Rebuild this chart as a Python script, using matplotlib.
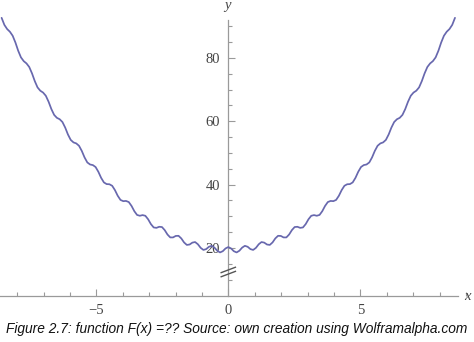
import numpy as np
import matplotlib
matplotlib.use("Agg")
import matplotlib.pyplot as plt
from matplotlib.ticker import MultipleLocator, FixedLocator

# Values (right half, x >= 0; the curve is mirror-symmetric)
x_half = [0.000, 0.105, 0.209, 0.314, 0.419, 0.524, 0.628, 0.733, 0.838, 0.942,
          1.047, 1.152, 1.257, 1.361, 1.466, 1.571, 1.676, 1.780, 1.885, 1.990,
          2.094, 2.199, 2.304, 2.409, 2.513, 2.618, 2.723, 2.827, 2.932, 3.037,
          3.142, 3.246, 3.351, 3.456, 3.560, 3.665, 3.770, 3.875, 3.979, 4.084,
          4.189, 4.294, 4.398, 4.503, 4.608, 4.712, 4.817, 4.922, 5.027, 5.131,
          5.236, 5.341, 5.445, 5.550, 5.655, 5.760, 5.864, 5.969, 6.074, 6.178,
          6.283, 6.388, 6.493, 6.597, 6.702, 6.807, 6.912, 7.016, 7.121, 7.226,
          7.330, 7.435, 7.540, 7.645, 7.749, 7.854, 7.959, 8.063, 8.168, 8.273,
          8.378, 8.482, 8.587]
y_half = [20.30, 19.86, 18.99, 18.60, 19.13, 20.12, 20.69, 20.39, 19.65, 19.39,
          20.05, 21.18, 21.88, 21.70, 21.10, 20.97, 21.76, 23.02, 23.85, 23.81,
          23.34, 23.34, 24.26, 25.65, 26.62, 26.70, 26.36, 26.49, 27.55, 29.07,
          30.17, 30.39, 30.18, 30.44, 31.63, 33.28, 34.51, 34.86, 34.79, 35.18,
          36.50, 38.28, 39.64, 40.13, 40.18, 40.71, 42.15, 44.07, 45.57, 46.18,
          46.37, 47.02, 48.60, 50.66, 52.28, 53.03, 53.34, 54.13, 55.84, 58.02,
          59.78, 60.66, 61.10, 62.03, 63.87, 66.18, 68.07, 69.08, 69.66, 70.71,
          72.69, 75.13, 77.15, 78.29, 79.00, 80.19, 82.29, 84.87, 87.02, 88.29,
          89.14, 90.45, 92.68]
x_ticks = [-5, 0, 5]
x_tick_labels = ["\u22125", "0", "5"]
y_ticks = [20, 40, 60, 80]
y_tick_labels = ["20", "40", "60", "80"]
caption = "Figure 2.7: function F(x) =?? Source: own creation using Wolframalpha.com"

xh = np.array(x_half)
yh = np.array(y_half)
x = np.concatenate([-xh[::-1], xh[1:]])
y = np.concatenate([yh[::-1], yh[1:]])

W, H = 474, 342
fig = plt.figure(figsize=(W / 100, H / 100), dpi=100)
ax = fig.add_axes([0, (H - 296) / H, 1, (296 - 5) / H])

# pixel -> data mapping
x0_px, xscale = 228.3, 26.4
y20_px, yscale = 248.0, 3.167
ax.set_xlim((0 - x0_px) / xscale, (W - x0_px) / xscale)
ax.set_ylim(20 - (296 - y20_px) / yscale, 20 + (y20_px - 5) / yscale)
ymin = 20 - (296 - y20_px) / yscale

axis_col = "#9a9a9a"
for s in ["top", "right"]:
    ax.spines[s].set_visible(False)
ax.spines["left"].set_position(("data", 0))
ax.spines["left"].set_bounds(ymin, 20 + (y20_px - 20) / yscale)
ax.spines["bottom"].set_bounds((0 - x0_px) / xscale, (458 - x0_px) / xscale)
for s in ["left", "bottom"]:
    ax.spines[s].set_color(axis_col)
    ax.spines[s].set_linewidth(0.9)

ax.plot(x, y, color="#6868ae", lw=1.25, solid_capstyle="round", zorder=3)

ax.xaxis.set_major_locator(FixedLocator(x_ticks))
ax.set_xticklabels(x_tick_labels)
ax.xaxis.set_minor_locator(MultipleLocator(1))
ax.yaxis.set_major_locator(FixedLocator(y_ticks))
ax.set_yticklabels(y_tick_labels)
ax.yaxis.set_minor_locator(FixedLocator([10, 15, 25, 30, 35, 45, 50, 55, 65, 70, 75, 85, 90]))
ax.tick_params(axis="both", which="both", direction="in", color=axis_col,
               labelcolor="#444444", labelsize=10.5, width=0.8)
ax.tick_params(axis="both", which="major", length=5, pad=6)
ax.tick_params(axis="both", which="minor", length=2.8)
for lab in ax.get_xticklabels() + ax.get_yticklabels():
    lab.set_family("Liberation Serif")

# axis break marks on y axis
yb = 20 - (272 - y20_px) / yscale
dx = 0.27
dy = 1.7
gap = 1.3
ax.fill([-dx, dx, dx, -dx], [yb - gap / 2 - dy / 2, yb - gap / 2 + dy / 2,
                             yb + gap / 2 + dy / 2, yb + gap / 2 - dy / 2],
        color="white", zorder=2.5, clip_on=False)
for off in (-gap / 2, gap / 2):
    ax.plot([-dx, dx], [yb + off - dy / 2, yb + off + dy / 2], color="#555555",
            lw=1.0, zorder=2.6, clip_on=False)

# axis labels
ax.text((227 - x0_px) / xscale, 20 + (y20_px - 6) / yscale, "y", fontsize=10.5,
        family="Liberation Serif", style="italic", color="#444444",
        ha="center", va="center")
ax.text((467 - x0_px) / xscale, ymin, "x", fontsize=10.5,
        family="Liberation Serif", style="italic", color="#444444",
        ha="center", va="center")

fig.text(0.5, 1 - 329 / H, caption, ha="center", va="center", fontsize=9.9,
         family="Liberation Sans", style="italic", color="#111111")

fig.savefig("out.png", dpi=100)
